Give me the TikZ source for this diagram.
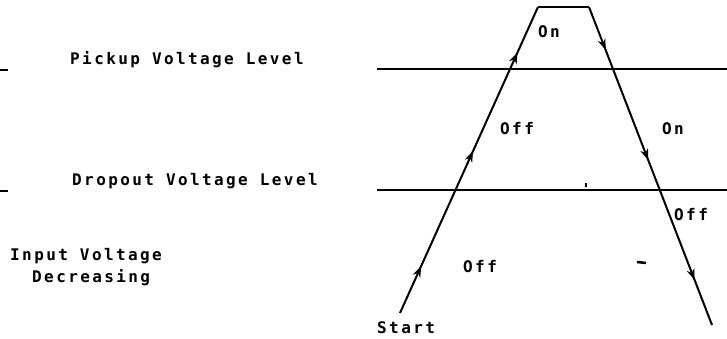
\documentclass[tikz,border=0pt]{standalone}
\usepackage{fontspec}
\newfontfamily\typefont[LetterSpace=15]{DejaVu Sans Mono}
\usetikzlibrary{decorations.markings,arrows.meta}
\begin{document}
\begin{tikzpicture}[x=1pt,y=-1pt,
  lbl/.style={font=\typefont\bfseries\fontsize{16}{20}\selectfont, inner sep=0pt, anchor=base west},
  level/.style={line width=2.2pt},
  trace/.style={line width=2pt},
  mytip/.tip={Stealth[length=11pt,width=8pt,inset=3.5pt]},
  marks/.style n args={3}{postaction={decorate,decoration={markings,
     mark=at position #1 with {\arrow{mytip}},
     mark=at position #2 with {\arrow{mytip}},
     mark=at position #3 with {\arrow{mytip}}}}}]
\useasboundingbox (0,0) rectangle (727,339);
% levels
\coordinate (pl) at (377,69);  \coordinate (pr) at (727,69);
\coordinate (dl) at (377,190); \coordinate (dr) at (727,190);
\draw[level] (pl) -- (pr);
\draw[level] (dl) -- (dr);
\coordinate (s1a) at (0,70);  \coordinate (s1b) at (8,70);
\coordinate (s2a) at (0,191); \coordinate (s2b) at (8,191);
\draw[line width=1.5pt] (s1a) -- (s1b);
\draw[line width=1.5pt] (s2a) -- (s2b);
% trace
\coordinate (start) at (400,313);
\coordinate (tl) at (538,7);
\coordinate (tr) at (589,7);
\coordinate (end) at (712,325);
\draw[trace, marks={0.153}{0.529}{0.851}] (start) -- (tl);
\draw[trace] (tl) -- (tr);
\draw[trace, marks={0.135}{0.481}{0.858}] (tr) -- (end);
% specks
\coordinate (k1) at (586,183); \coordinate (k2) at (586,187);
\draw[line width=1.2pt] (k1) -- (k2);
\coordinate (k3) at (637,262); \coordinate (k4) at (646,263);
\draw[line width=2.5pt] (k3) -- (k4);
% labels
\node[lbl] (pick) at (70,65) {Pickup Voltage Level};
\node[lbl] (drop) at (72,185) {Dropout Voltage Level};
\node[lbl] (inp) at (10,260) {Input Voltage};
\node[lbl] (dec) at (32,282) {Decreasing};
\node[lbl] (on1) at (538,38) {On};
\node[lbl] (off1) at (500,135) {Off};
\node[lbl] (on2) at (662,135) {On};
\node[lbl] (off2) at (674,220) {Off};
\node[lbl] (off3) at (463,272) {Off};
\node[lbl] (st) at (377,333) {Start};
\end{tikzpicture}
\end{document}
